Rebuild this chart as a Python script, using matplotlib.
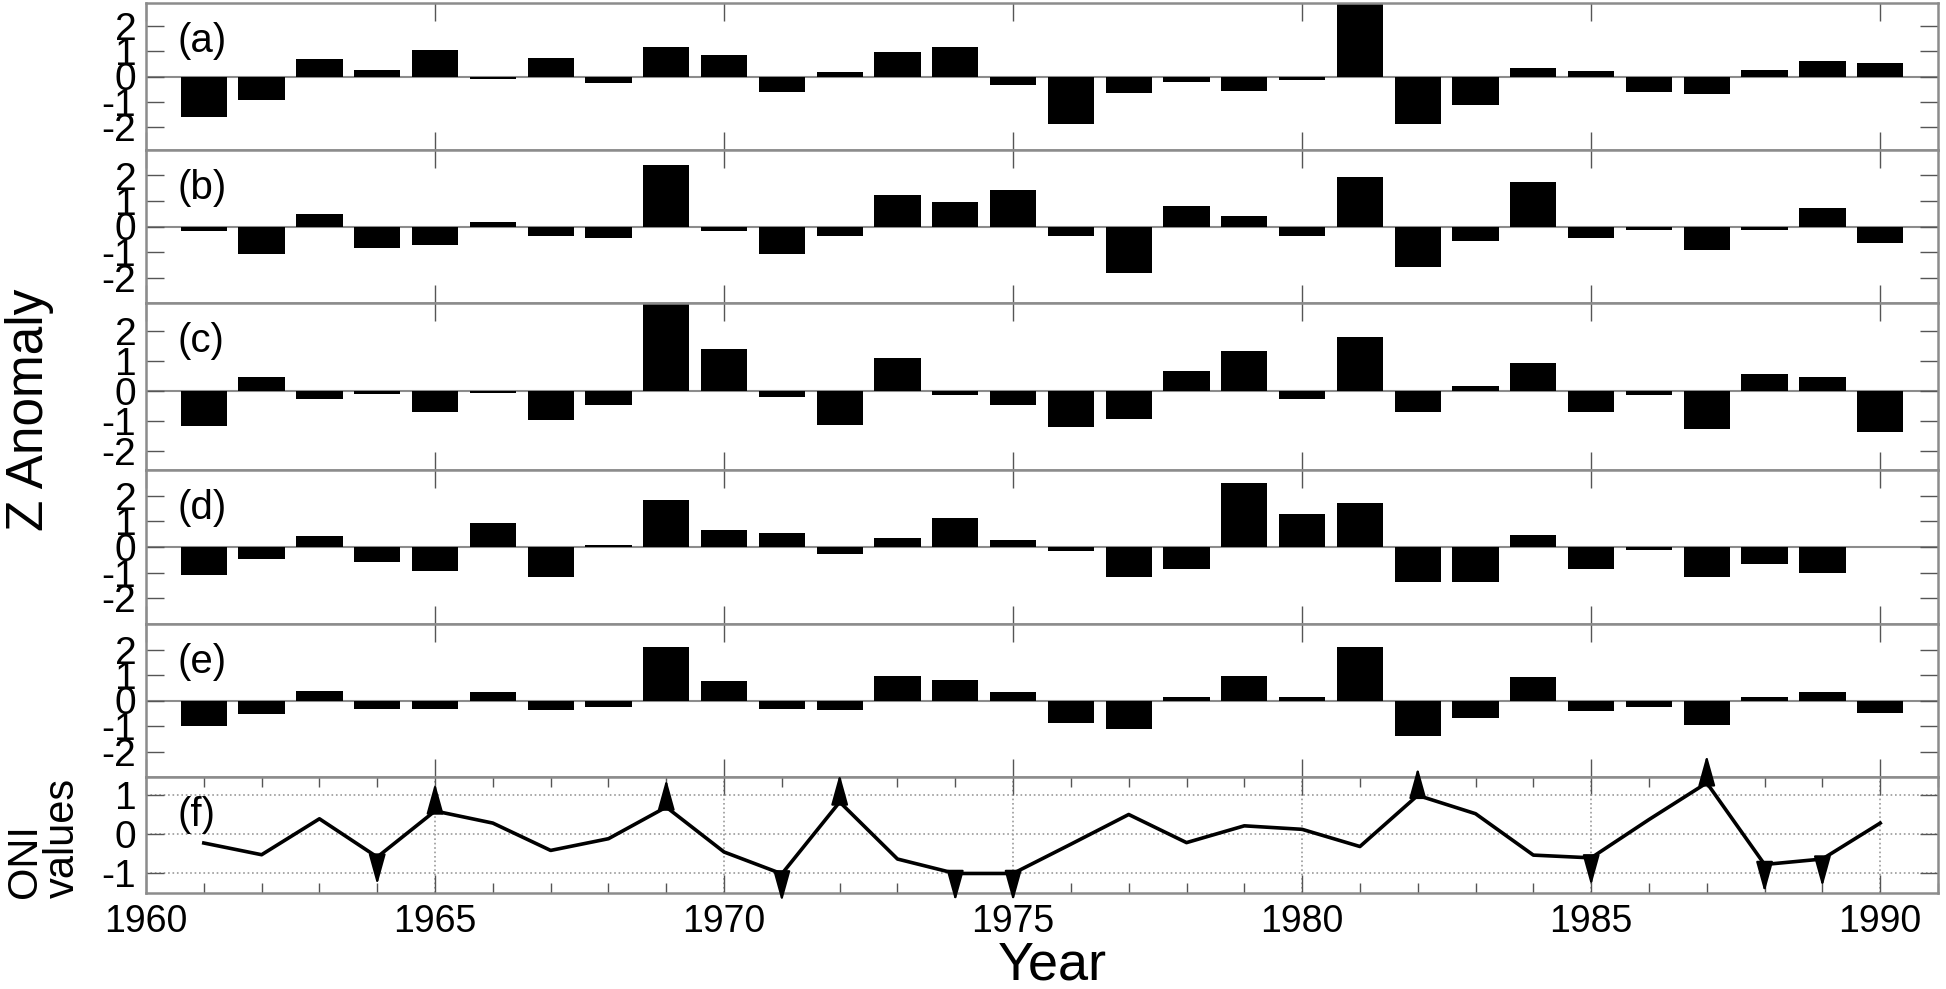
import numpy as np
import matplotlib
matplotlib.use('Agg')
import matplotlib.pyplot as plt

# ---- data ----
years = np.arange(1961, 1991)

z_a = [-1.6, -0.93, 0.71, 0.27, 1.04, -0.1, 0.73, -0.24, 1.15, 0.84, -0.61, 0.16, 0.96, 1.15, -0.33,
       -1.87, -0.67, -0.2, -0.57, -0.13, 3.0, -1.89, -1.13, 0.33, 0.23, -0.6, -0.68, 0.25, 0.63, 0.55]
z_b = [-0.16, -1.06, 0.5, -0.86, -0.73, 0.17, -0.37, -0.45, 2.42, -0.16, -1.06, -0.37, 1.23, 0.97, 1.43,
       -0.37, -1.81, 0.81, 0.42, -0.37, 1.96, -1.59, -0.58, 1.76, -0.45, -0.13, -0.91, -0.13, 0.73, -0.65]
z_c = [-1.18, 0.47, -0.26, -0.11, -0.71, -0.08, -0.96, -0.48, 3.0, 1.39, -0.2, -1.12, 1.11, -0.12, -0.45,
       -1.19, -0.93, 0.66, 1.34, -0.26, 1.79, -0.71, 0.18, 0.93, -0.71, -0.12, -1.27, 0.58, 0.46, -1.36]
z_d = [-1.08, -0.46, 0.41, -0.59, -0.92, 0.94, -1.15, 0.07, 1.82, 0.67, 0.54, -0.29, 0.34, 1.12, 0.26,
       -0.15, -1.15, -0.85, 2.48, 1.29, 1.73, -1.35, -1.35, 0.46, -0.85, -0.1, -1.15, -0.66, -1.02, 0.0]
z_e = [-0.99, -0.53, 0.36, -0.32, -0.32, 0.32, -0.37, -0.25, 2.09, 0.75, -0.32, -0.37, 0.95, 0.82, 0.32,
       -0.89, -1.11, 0.14, 0.95, 0.14, 2.09, -1.38, -0.7, 0.91, -0.43, -0.24, -0.96, 0.12, 0.32, -0.5]

oni = [-0.22, -0.52, 0.40, -0.58, 0.60, 0.29, -0.41, -0.11, 0.70, -0.45, -1.01, 0.83, -0.63, -1.0, -1.0,
       -0.25, 0.51, -0.21, 0.22, 0.13, -0.31, 1.0, 0.53, -0.53, -0.60, 0.38, 1.32, -0.77, -0.63, 0.29]
oni_up = [1965, 1969, 1972, 1982, 1987]
oni_down = [1964, 1971, 1974, 1975, 1985, 1988, 1989]

panel_names = ['(a)', '(b)', '(c)', '(d)', '(e)', '(f)']
series = [z_a, z_b, z_c, z_d, z_e]
ylims = [(-2.9, 2.9), (-3, 3), (-2.63, 2.93), (-3, 3), (-3, 3)]
xticks = [1960, 1965, 1970, 1975, 1980, 1985, 1990]

# ---- layout (pixels) ----
W, H = 1946, 989
rows = [3, 150, 303, 470, 624, 777, 893]
left, right = 146, 1938
SPINE = '#8c8c8c'
TICK = '#555555'

plt.rcParams['font.family'] = ['Liberation Sans', 'DejaVu Sans']
plt.rcParams['axes.unicode_minus'] = False

fig = plt.figure(figsize=(W / 100, H / 100), dpi=100, facecolor='white')

axes = []
for i in range(6):
    ax = fig.add_axes([left / W, 1 - rows[i + 1] / H, (right - left) / W, (rows[i + 1] - rows[i]) / H])
    for s in ax.spines.values():
        s.set_color(SPINE); s.set_linewidth(1.8)
    ax.set_xlim(1960, 1991)
    ax.set_xticks(xticks)
    ax.tick_params(axis='both', which='major', direction='in', length=13, width=1, color=TICK,
                   top=True, right=True, labelsize=28, pad=7)
    if i < 5:
        ax.tick_params(axis='x', labelbottom=False)
    ax.annotate(panel_names[i], xy=(0, 1), xycoords='axes fraction', xytext=(31, -38),
                textcoords='offset pixels', ha='left', va='center', fontsize=29)
    axes.append(ax)

# ── bar panels a-e ──
for ax, vals, yl in zip(axes[:5], series, ylims):
    ax.axhline(0, color=SPINE, lw=1.5, zorder=1)
    ax.bar(years, vals, width=0.8, color='black', edgecolor='none', zorder=2)
    ax.set_ylim(*yl)
    ax.set_yticks([-2, -1, 0, 1, 2])

# ── ONI panel ──
ax = axes[5]
ax.plot(years, oni, color='black', lw=2.6, zorder=3)
ax.set_ylim(-1.5, 1.47)
ax.set_yticks([-1, 0, 1])
ax.set_xticks(np.arange(1960, 1992), minor=True)
ax.tick_params(axis='x', which='minor', direction='in', length=7, width=1, color=TICK, top=True)
ax.grid(True, which='major', ls=':', color='#9a9a9a', lw=1.2)
ax.tick_params(axis='x', labelsize=27, pad=8)

oni_at = dict(zip(years, oni))
for yr in oni_up + oni_down:
    dy = 20 if yr in oni_up else -20
    ax.annotate('', xy=(yr, oni_at[yr]), xytext=(0, dy), textcoords='offset points',
                arrowprops=dict(arrowstyle='<|-,head_length=0.9,head_width=0.25', color='black',
                                lw=1.6, shrinkA=0, shrinkB=0, mutation_scale=21),
                annotation_clip=False, zorder=4)

fig.text(30 / W, 1 - 410 / H, 'Z Anomaly', rotation=90, ha='center', va='center', fontsize=37)
fig.text(44 / W, 1 - 838 / H, 'ONI\nvalues', rotation=90, ha='center', va='center', fontsize=30,
         multialignment='left', linespacing=0.92)
fig.text(1052 / W, 1 - 966 / H, 'Year', ha='center', va='center', fontsize=39)

plt.savefig('out.png', dpi=100, facecolor='white')
